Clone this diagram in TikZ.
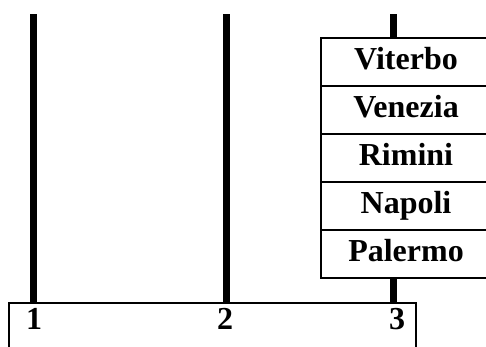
\documentclass[tikz,border=0pt]{standalone}
\usepackage{fontspec}
\setmainfont{Liberation Serif}
\begin{document}
\begin{tikzpicture}[x=1pt,y=-1pt,
  peg/.style={fill=black,draw=none,minimum width=7pt,inner sep=0pt,anchor=north},
  disk/.style={draw=black,line width=2pt,fill=white,minimum width=170pt,minimum height=48pt,
    inner sep=0pt,text height=21pt,text depth=7pt,font=\fontsize{32}{32}\selectfont\bfseries},
  num/.style={font=\fontsize{32}{32}\selectfont\bfseries,inner sep=0pt,text height=21pt,text depth=0pt,anchor=south}]
\useasboundingbox (0,0) rectangle (486,347);
% the three rods
\node[peg,minimum height=289pt] (p1) at (33.5,14) {};
\node[peg,minimum height=289pt] (p2) at (226,14) {};
\node[peg,minimum height=289pt] (p3) at (393.5,14) {};
% base plate
\draw[line width=2pt,fill=white] (9,360) -- (9,303) -- (416,303) -- (416,360);
\node[num] (n1) at (34,329.5) {1};
\node[num] (n2) at (225,329.5) {2};
\node[num] (n3) at (397,329.5) {3};
% stack of disks on the third rod
\node[disk] (d1) at (406,62.3) {Viterbo};
\node[disk] (d2) at (406,110.3) {Venezia};
\node[disk] (d3) at (406,158.3) {Rimini};
\node[disk] (d4) at (406,206.3) {Napoli};
\node[disk] (d5) at (406,254.3) {Palermo};
\end{tikzpicture}
\end{document}
